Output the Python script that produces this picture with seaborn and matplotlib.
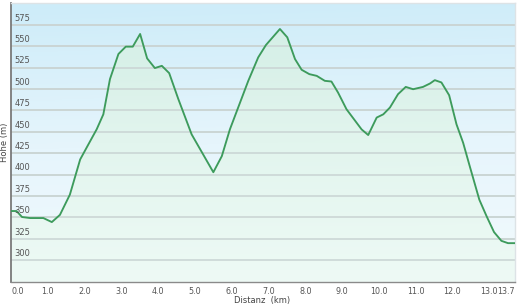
import numpy as np
import pandas as pd
import matplotlib
matplotlib.use("Agg")
import matplotlib.pyplot as plt
import seaborn as sns
from matplotlib.colors import LinearSegmentedColormap

# ---- data ----
distance_km = [0.0, 0.15, 0.30, 0.52, 0.88, 1.11, 1.33, 1.60, 1.88, 2.10, 2.33,
               2.51, 2.69, 2.92, 3.12, 3.31, 3.51, 3.70, 3.91, 4.10, 4.30, 4.55,
               4.91, 5.50, 5.73, 5.95, 6.45, 6.72, 6.93, 7.31, 7.51, 7.72, 7.90,
               8.11, 8.31, 8.53, 8.71, 8.89, 9.12, 9.53, 9.71, 9.94, 10.12, 10.30,
               10.52, 10.73, 10.93, 11.20, 11.39, 11.52, 11.70, 11.91, 12.11,
               12.29, 12.47, 12.73, 12.93, 13.13, 13.33, 13.51, 13.70]
elevation_m = [357.5, 357.5, 350.5, 349.3, 349.3, 344.6, 353, 376.6, 417.7, 435, 453,
               470.4, 511.5, 540.8, 549.4, 549.4, 564.2, 535.7, 524.4, 527, 518.5, 488,
               447, 402.8, 421.5, 452.8, 509.5, 536.9, 551.3, 570, 560.3, 534.9, 522.4,
               517.3, 515.3, 509.5, 508.7, 495.8, 476.3, 452.8, 446.2, 466.6, 470.4, 478.3,
               493.9, 502.4, 499.7, 502.4, 506.4, 510.3, 507.6, 492.7, 458.7,
               437.2, 409.8, 370.8, 351.2, 332.9, 322.7, 320, 320]
x_ticks = [0, 1, 2, 3, 4, 5, 6, 7, 8, 9, 10, 11, 12, 13, 13.7]
x_tick_labels = ["0.0", "1.0", "2.0", "3.0", "4.0", "5.0", "6.0", "7.0", "8.0",
                 "9.0", "10.0", "11.0", "12.0", "13.0", "13.7"]
y_ticks = [300, 325, 350, 375, 400, 425, 450, 475, 500, 525, 550, 575]
x_label = "Distanz  (km)"
y_label = "Höhe (m)"

df = pd.DataFrame({"km": distance_km, "m": elevation_m})

sns.set_theme(style="white")
plt.rcParams["font.family"] = ["DejaVu Sans"]

W, H = 520, 307
fig = plt.figure(figsize=(W / 100, H / 100), dpi=100)
fig.patch.set_facecolor("white")
x0, x1 = 11 / W, 515 / W
y0, y1 = 1 - 281.7 / H, 1 - 3.3 / H
ax = fig.add_axes([x0, y0, x1 - x0, y1 - y0])

xmin, xmax = 0, 13.7
ymin, ymax = 275, 600
ax.set_xlim(xmin, xmax)
ax.set_ylim(ymin, ymax)

# background gradient (light blue top -> very light bottom)
bg_cmap = LinearSegmentedColormap.from_list("bg", ["#f2fafd", "#e6f5fc", "#cdecf9"])
gy = np.linspace(0, 1, 256).reshape(-1, 1)
gx = np.linspace(0, 1, 64).reshape(1, -1)
bg = gy * 0.95 + (1 - gx) * 0.05
ax.imshow(bg, cmap=bg_cmap, aspect="auto", origin="lower",
          extent=[xmin, xmax, ymin, ymax], zorder=0, vmin=0, vmax=1)

# gridlines
for yt in y_ticks:
    ax.axhline(yt, color="#c9d3d7", lw=1.3, zorder=1)

# area fill with green gradient
poly = ax.fill_between(df["km"], df["m"], ymin, facecolor="none", edgecolor="none", zorder=2)
fill_cmap = LinearSegmentedColormap.from_list("fill", ["#eefbf5", "#e2f6ee", "#d3efe5"])
im = ax.imshow(gy, cmap=fill_cmap, aspect="auto", origin="lower",
               extent=[xmin, xmax, ymin, ymax], zorder=2, alpha=0.95)
path = poly.get_paths()[0]
im.set_clip_path(path, transform=ax.transData)

# redraw gridlines lightly over fill
for yt in y_ticks:
    ax.axhline(yt, color="#cbd6d5", lw=1.3, zorder=2.5, alpha=0.9)

sns.lineplot(data=df, x="km", y="m", ax=ax, color="#3d9b5c", lw=1.35, zorder=3,
             sort=False)

# y labels inside plot
for yt in y_ticks:
    ax.text(0.1, yt + 2.5, str(yt), fontsize=6.0, color="#555555",
            ha="left", va="bottom", zorder=4)
ax.set_yticks([])

ax.set_xticks(x_ticks)
ax.set_xticklabels(x_tick_labels, fontsize=5.8, color="#555555")
ax.tick_params(axis="x", direction="out", length=3, width=0.8, color="#777777", pad=1)
lbls = ax.get_xticklabels()
lbls[0].set_horizontalalignment("left")
lbls[-1].set_horizontalalignment("right")

ax.set_xlabel("")
ax.set_ylabel("")
fig.text(262 / W, 1 - 300.5 / H, x_label, fontsize=6.0, color="#444444", ha="center", va="center")
fig.text(5 / W, 1 - 142 / H, y_label, fontsize=6.0, color="#444444", ha="center", va="center",
         rotation=90)

for side in ["top", "right"]:
    ax.spines[side].set_color("#dde3e6")
    ax.spines[side].set_linewidth(1.0)
ax.spines["left"].set_color("#7a7a7a")
ax.spines["left"].set_linewidth(1.3)
ax.spines["bottom"].set_color("#8a8a8a")
ax.spines["bottom"].set_linewidth(1.0)

fig.savefig("out.png", dpi=100)
